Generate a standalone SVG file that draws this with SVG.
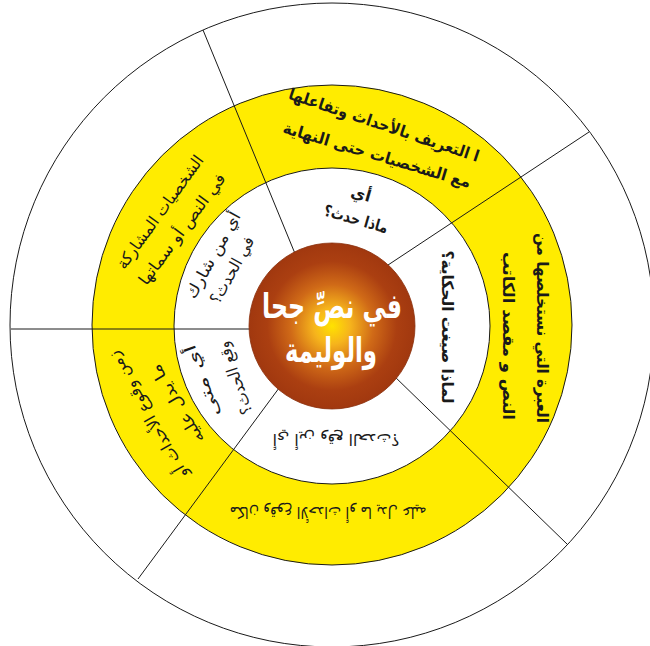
<svg xmlns="http://www.w3.org/2000/svg" width="650" height="646" viewBox="0 0 650 646">
<defs>
<radialGradient id="core" cx="50%" cy="50%" r="50%">
<stop offset="0" stop-color="#FFE200"/>
<stop offset="0.22" stop-color="#F6B41C"/>
<stop offset="0.5" stop-color="#D06A17"/>
<stop offset="0.78" stop-color="#AB3F11"/>
<stop offset="1" stop-color="#A1380F"/>
</radialGradient>
<style>
.ring{stroke:#1a1a1a;stroke-width:1}
.ln{stroke:#1a1a1a;stroke-width:1;fill:none}
.t{font-family:'DejaVu Sans',sans-serif;font-size:16px;fill:#1a1a1a;text-anchor:middle;direction:rtl;dominant-baseline:central}
.b{font-weight:bold}
.c{font-family:'DejaVu Sans',sans-serif;font-size:34px;font-weight:bold;fill:#fff;text-anchor:middle;direction:rtl}
</style>
</defs>
<rect width="650" height="646" fill="#fff"/>
<g id="rings">
<circle class="ring" cx="332" cy="325" r="322" fill="#fff"/>
<circle class="ring" cx="332" cy="325" r="240" fill="#FFEC00"/>
<circle class="ring" cx="332" cy="326" r="158" fill="#fff"/>
</g>
<g id="connectors">
<line class="ln" x1="203" y1="30" x2="296" y2="256"/>
<line class="ln" x1="589" y1="132" x2="385" y2="267"/>
<line class="ln" x1="567" y1="544" x2="392" y2="374"/>
<line class="ln" x1="138" y1="579" x2="282" y2="384"/>
<line class="ln" x1="11" y1="329" x2="258" y2="329"/>
</g>
<g id="center">
<circle cx="332" cy="326" r="83" fill="url(#core)" stroke="#8a300c" stroke-width="0.8"/>
<text class="c" x="332" y="318" textLength="140" lengthAdjust="spacingAndGlyphs">في نصِّ جحا</text>
<text class="c" x="331" y="362" textLength="92" lengthAdjust="spacingAndGlyphs">والوليمة</text>
</g>
<g id="what-q">
<text class="t b" transform="translate(361,194) rotate(16)">أي</text>
<text class="t b" transform="translate(356,219) rotate(16)" textLength="66" lengthAdjust="spacingAndGlyphs">ماذا حدث؟</text>
</g>
<g id="what-a">
<text class="t b" transform="translate(384,125) rotate(18.5)" textLength="200" lengthAdjust="spacingAndGlyphs">ا التعريف بالأحداث وتفاعلها</text>
<text class="t b" transform="translate(377,155) rotate(16.5)" textLength="195" lengthAdjust="spacingAndGlyphs">مع الشخصيات حتى النهاية</text>
</g>
<g id="who-q">
<text class="t" transform="translate(213,255) rotate(-61)" textLength="96" lengthAdjust="spacingAndGlyphs">أي من شارك</text>
<text class="t" transform="translate(232,270) rotate(-61)" textLength="74" lengthAdjust="spacingAndGlyphs">في الحدث؟</text>
</g>
<g id="who-a">
<text class="t" transform="translate(160,212) rotate(-54)" textLength="136" lengthAdjust="spacingAndGlyphs">الشخصيات المشاركة</text>
<text class="t" transform="translate(182,229) rotate(-53.5)" textLength="134" lengthAdjust="spacingAndGlyphs">في النص أو سماتها</text>
</g>
<g id="why-q">
<text class="t b" transform="translate(447,327) rotate(90)" textLength="153" lengthAdjust="spacingAndGlyphs">لماذا صيغت الحكاية؟</text>
</g>
<g id="why-a">
<text class="t b" transform="translate(542,328) rotate(90)" textLength="190" lengthAdjust="spacingAndGlyphs">العبرة التي نستخلصها من</text>
<text class="t b" transform="translate(508,336) rotate(90)" textLength="168" lengthAdjust="spacingAndGlyphs">النص و مقصد الكاتب</text>
</g>
<g id="where-q">
<text class="t" transform="translate(336,439) rotate(180)" textLength="127" lengthAdjust="spacingAndGlyphs">أي أين وقع الحدث؟</text>
</g>
<g id="where-a">
<text class="t" transform="translate(328,512) rotate(180)" textLength="197" lengthAdjust="spacingAndGlyphs">مكان وقوع الأحداث أو ما يدل عليه</text>
</g>
<g id="when-q">
<text class="t" transform="translate(202,381) rotate(-110)" textLength="76" lengthAdjust="spacingAndGlyphs">أي متى</text>
<text class="t" transform="translate(235,378) rotate(-109)" textLength="76" lengthAdjust="spacingAndGlyphs">وقع الحدث؟</text>
</g>
<g id="when-a">
<text class="t" transform="translate(148,415) rotate(-120)" textLength="144" lengthAdjust="spacingAndGlyphs">زمن وقوع الأحداث أو</text>
<text class="t" transform="translate(177,404) rotate(-121)" textLength="89" lengthAdjust="spacingAndGlyphs">ما يدل عليه</text>
</g>
</svg>
